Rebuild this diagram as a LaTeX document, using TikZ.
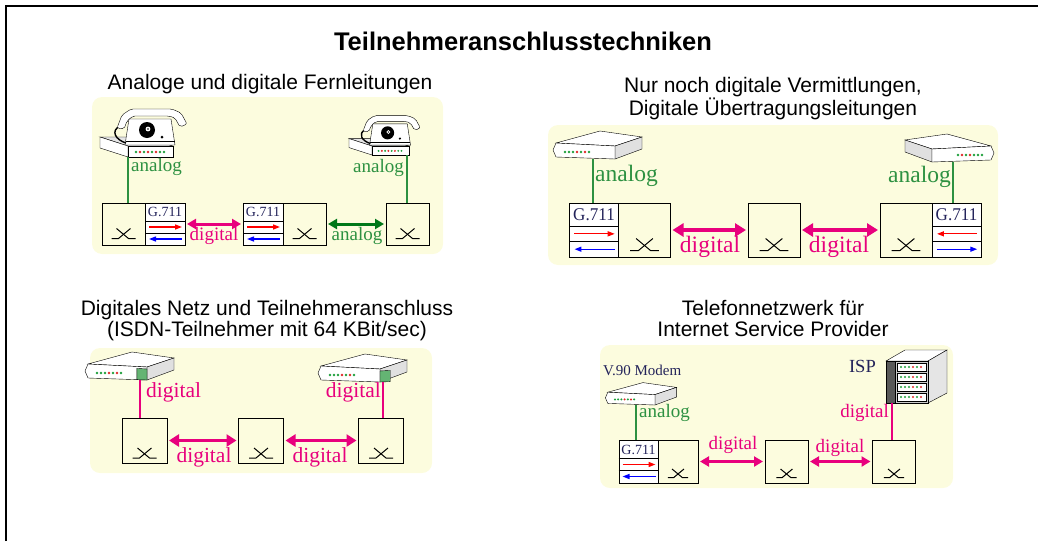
\documentclass[tikz,border=0pt]{standalone}
\usepackage{fontspec}
\setmainfont{Liberation Serif}
\setsansfont{Liberation Sans}
\usetikzlibrary{arrows.meta,positioning}

\definecolor{panelyellow}{RGB}{252,252,222}
\definecolor{digpink}{RGB}{232,0,125}
\definecolor{anagreen}{RGB}{45,145,65}
\definecolor{arrgreen}{RGB}{0,120,25}
\definecolor{codeblue}{RGB}{35,35,90}
\definecolor{ledgreen}{RGB}{30,160,60}
\definecolor{ledred}{RGB}{225,40,40}
\definecolor{ntgreen}{RGB}{100,180,115}

\tikzset{
  % telephone, origin at lower left corner of the front strip
  pics/phone/.style={code={
    \draw[fill=black!10] (-28,-20) -- (17,-20) -- (45,-11) -- (0,-11) -- cycle;
    \draw[fill=white] (0,-11) -- (-28,-20) -- (-28,-9) -- (0,0) -- cycle;
    \draw[fill=white] (0,-11) rectangle (45,0);
    \foreach \x/\c in {8/ledgreen,12/ledred,16/ledgreen,20/ledred,24/ledgreen,28/ledred,32/ledgreen,36/ledgreen}
      \fill[\c] (\x,-5) circle (1.3);
    \draw[fill=white] (-3,-12) -- (1,-38) -- (43,-38) -- (47,-12) -- cycle;
    \draw (-2.5,-16) -- (46.5,-16);
    \fill (19,-27) circle (8);
    \fill[white] (20,-28) circle (2.4);
    \fill (20,-28) circle (0.9);
    \fill (34,-20) circle (1.5);
    \draw[line width=1.4pt] (-8,-31) .. controls (-18,-26) and (-12,-17) .. (-2,-14);
    \draw[fill=white, rounded corners=2pt] (-11,-29) -- (-6,-42) -- (3,-48) -- (44,-48)
      -- (53,-44) -- (59,-33) -- (52,-30) -- (47,-39) -- (41,-41) -- (5,-41) -- (-1,-36) -- (-4,-28) -- cycle;
  }},
  % flat box, origin at lower right corner of the front face
  pics/modem/.style={code={
    \draw[fill=white] (-59,-16) -- (-15,-28) -- (27,-22) -- (0,-13) -- cycle;
    \draw[fill=black!12] (0,-13) -- (27,-22) -- (27,-10) -- (0,0) -- cycle;
    \draw[fill=white] (-62,-9) -- (-59,-16) -- (0,-13) -- (0,0) -- (-59,-2) -- cycle;
    \foreach \x/\c in {-50/ledgreen,-46/ledgreen,-42/ledgreen,-38/ledred,-34/ledgreen,-30/ledred,-26/ledgreen}
      \fill[\c] (\x,-7) circle (1.4);
  }},
  pics/ntbox/.style={code={
    \pic {modem};
    \draw[fill=ntgreen] (-12,-13.6) -- (0,-13) -- (0,0) -- (-12,-0.4) -- cycle;
  }},
  % server rack, origin below the dark side panel
  pics/server/.style={code={
    \draw[fill=white] (-6,-42) -- (13,-53) -- (55,-53) -- (36,-42) -- cycle;
    \draw[fill=black!10] (36,-42) -- (55,-53) -- (55,-10) -- (36,0) -- cycle;
    \draw[fill=black!65] (-6,-42) rectangle (3,0);
    \draw[fill=black!20] (3,-42) rectangle (36,0);
    \foreach \r in {0,...,3} {
      \draw[fill=white] (5,-40+10*\r) rectangle (34,-32+10*\r);
      \foreach \x/\c in {9/ledgreen,13/ledgreen,17/ledgreen,21/ledred,25/ledgreen,29/ledred}
        \fill[\c] (\x,-36+10*\r) circle (1.2);
    }
  }},
  % switching element
  pics/xsw/.style={code={
    \draw[line width=1pt] (-12,0) -- (-5,0) -- (7,-10);
    \draw[line width=1pt] (12,0) -- (5,0) -- (-7,-10);
  }},
  % G.711 rows: #1 red tip, #2 blue tip
  pics/codec/.style 2 args={code={
    \draw[line width=0.8pt] (-20,-3) -- (20,-3) (-20,9) -- (20,9);
    \node[font=\fontsize{14}{14}\selectfont, text=codeblue, inner sep=0pt] (-lbl) at (0,-12) {G.711};
    \draw[red, line width=1.3pt, #1] (-16,3) -- (17,3);
    \draw[blue, line width=1.3pt, #2] (-16,15) -- (17,15);
  }},
}

\begin{document}
\begin{tikzpicture}[x=1pt, y=-1pt,
  >={Triangle[length=7pt,width=5pt]},
  panel/.style={fill=panelyellow, rounded corners=10pt},
  heading/.style={font=\sffamily\fontsize{21}{21.5}\selectfont, align=center, inner sep=0pt, anchor=north},
  swbox/.style={draw, line width=1pt, inner sep=0pt, minimum width=43pt, minimum height=42pt},
  codecbox/.style={swbox, fill=white, minimum width=40pt},
  lbl/.style={inner sep=0pt, font=\fontsize{19}{19}\selectfont},
  anatxt/.style={lbl, text=anagreen},
  digtxt/.style={lbl, text=digpink},
  darktxt/.style={lbl, text=codeblue},
  analine/.style={anagreen, line width=1.2pt},
  digline/.style={digpink, line width=1.2pt},
  dblarrow/.style={line width=3pt, {Triangle[length=9pt,width=10pt]}-{Triangle[length=9pt,width=10pt]},
    shorten <=1.5pt, shorten >=1.5pt},
]
\useasboundingbox (0,0) rectangle (1038,541);
\draw[line width=2.5pt] (6,541) -- (6,6) -- (1038,6);

\node[font=\sffamily\bfseries\fontsize{25.5}{25.5}\selectfont, inner sep=0pt, anchor=north] (title) at (523,32) {Teilnehmeranschlusstechniken};

% yellow backgrounds
\fill[panel] (92,97) rectangle (443,254);
\fill[panel] (548,125) rectangle (998,265);
\fill[panel] (90,348) rectangle (432,473);
\fill[panel] (600,345) rectangle (953,488);

% analog and digital trunks
\node[heading] (h1) at (270,74) {Analoge und digitale Fernleitungen};
\pic at (128,157) {phone};
\pic[scale=.82] at (372,155) {phone};
\coordinate (tel1) at (128,157);
\coordinate (tel2) at (407,155);
\node[swbox] (s11) at (123.5,224) {};
\node[codecbox, right=-1pt of s11] (c11) {};
\node[codecbox] (c12) at (263,224) {};
\node[swbox, right=-1pt of c12] (s12) {};
\node[swbox] (s13) at (407.5,224) {};
\pic[yshift=7pt] at (s11.south) {xsw};
\pic[yshift=7pt] at (s12.south) {xsw};
\pic[yshift=7pt] at (s13.south) {xsw};
\pic (k11) at (c11) {codec={->}{<-}};
\pic (k12) at (c12) {codec={->}{<-}};
\draw[analine] (tel1) -- (tel1 |- s11.north);
\draw[analine] (tel2) -- (tel2 |- s13.north);
\draw[dblarrow, digpink] (c11) -- (c12);
\draw[dblarrow, arrgreen] (s12) -- (s13);
\node[anatxt, anchor=west] (an11) at (131,167) {analog};
\node[anatxt, anchor=east] (an12) at (404,168) {analog};
\node[digtxt] (dg11) at (214,236) {digital};
\node[anatxt] (an13) at (357,236) {analog};

% digital exchanges only
\begin{scope}[swbox/.append style={minimum width=52pt, minimum height=54pt},
  codecbox/.append style={minimum width=49pt},
  lbl/.append style={font=\fontsize{23.5}{23.5}\selectfont},
  dblarrow/.append style={line width=4pt, {Triangle[length=11pt,width=13pt]}-{Triangle[length=11pt,width=13pt]}}]
\node[heading] (h2) at (773,77) {Nur noch digitale Vermittlungen,\\Digitale Übertragungsleitungen};
\pic at (615,159) {modem};
\pic[xscale=-1] at (932,162) {modem};
\coordinate (mdm1) at (593,159);
\coordinate (mdm2) at (953,162);
\node[codecbox] (c21) at (594,230) {};
\node[swbox, right=-1pt of c21] (s21) {};
\node[swbox] (s22) at (774,230) {};
\node[swbox] (s23) at (906,230) {};
\node[codecbox, right=-1pt of s23] (c22) {};
\pic[yshift=7pt, scale=1.2] at (s21.south) {xsw};
\pic[yshift=7pt, scale=1.2] at (s22.south) {xsw};
\pic[yshift=7pt, scale=1.2] at (s23.south) {xsw};
\pic[xscale=1.22, yscale=1.28, transform shape] (k21) at (c21) {codec={->}{<-}};
\pic[xscale=1.22, yscale=1.28, transform shape] (k22) at (c22) {codec={<-}{->}};
\draw[analine] (mdm1) -- (mdm1 |- c21.north);
\draw[analine] (mdm2) -- (mdm2 |- c22.north);
\draw[dblarrow, digpink] (s21) -- (s22);
\draw[dblarrow, digpink] (s22) -- (s23);
\node[anatxt, anchor=west] (an21) at (595,176) {analog};
\node[anatxt, anchor=east] (an22) at (951,177) {analog};
\node[digtxt] (dg21) at (710,247) {digital};
\node[digtxt] (dg22) at (839,247) {digital};
\end{scope}

% ISDN subscriber line
\begin{scope}[swbox/.append style={minimum width=45pt, minimum height=45pt},
  lbl/.append style={font=\fontsize{21.5}{21.5}\selectfont},
  dblarrow/.append style={line width=3.5pt, {Triangle[length=10pt,width=12pt]}-{Triangle[length=10pt,width=12pt]}}]
\node[heading] (h3) at (267,300) {Digitales Netz und Teilnehmeranschluss\\(ISDN-Teilnehmer mit 64 KBit/sec)};
\pic[scale=.85] at (147,380) {ntbox};
\pic[xscale=-.85, yscale=.85] at (380,382) {ntbox};
\coordinate (nt1) at (140,380);
\coordinate (nt2) at (383,382);
\node[swbox] (s31) at (144.5,440.5) {};
\node[swbox] (s32) at (261,440.5) {};
\node[swbox] (s33) at (381,440.5) {};
\pic[yshift=5.5pt] at (s31.south) {xsw};
\pic[yshift=5.5pt] at (s32.south) {xsw};
\pic[yshift=5.5pt] at (s33.south) {xsw};
\draw[digline] (nt1) -- (nt1 |- s31.north);
\draw[digline] (nt2) -- (nt2 |- s33.north);
\draw[dblarrow, digpink] (s31) -- (s32);
\draw[dblarrow, digpink] (s32) -- (s33);
\node[digtxt, anchor=west] (dg31) at (146,392) {digital};
\node[digtxt, anchor=east] (dg32) at (381,392) {digital};
\node[digtxt] (dg33) at (204,457) {digital};
\node[digtxt] (dg34) at (320,457) {digital};
\end{scope}

% dial-up to the provider
\begin{scope}[swbox/.append style={minimum width=43pt, minimum height=43pt},
  codecbox/.append style={minimum width=39pt}]
\node[heading] (h4) at (773,300) {Telefonnetzwerk für\\Internet Service Provider};
\pic[scale=.8] at (655,405) {modem};
\pic at (892,403) {server};
\coordinate (mdm3) at (636,405);
\coordinate (isp) at (892,403);
\node[codecbox] (c41) at (638.5,461.5) {};
\node[swbox, right=-1pt of c41, minimum width=40pt] (s41) {};
\node[swbox] (s42) at (786.5,461.5) {};
\node[swbox] (s43) at (894,461.5) {};
\pic[yshift=6pt, scale=.85] at (s41.south) {xsw};
\pic[yshift=6pt, scale=.85] at (s42.south) {xsw};
\pic[yshift=6pt, scale=.85] at (s43.south) {xsw};
\pic (k41) at (c41) {codec={->}{<-}};
\draw[analine] (mdm3) -- (mdm3 |- c41.north);
\draw[digline] (isp) -- (isp |- s43.north);
\draw[dblarrow, digpink] (s41) -- (s42);
\draw[dblarrow, digpink] (s42) -- (s43);
\node[darktxt, anchor=west, font=\fontsize{15}{15}\selectfont] (v90) at (603,370) {V.90 Modem};
\node[darktxt, anchor=east, font=\fontsize{18.5}{18.5}\selectfont] (ispl) at (876,366) {ISP};
\node[anatxt, anchor=west] (an41) at (639,413) {analog};
\node[digtxt, anchor=east] (dg41) at (889,413) {digital};
\node[digtxt] (dg42) at (733,445) {digital};
\node[digtxt] (dg43) at (840,448) {digital};
\end{scope}
\end{tikzpicture}
\end{document}
